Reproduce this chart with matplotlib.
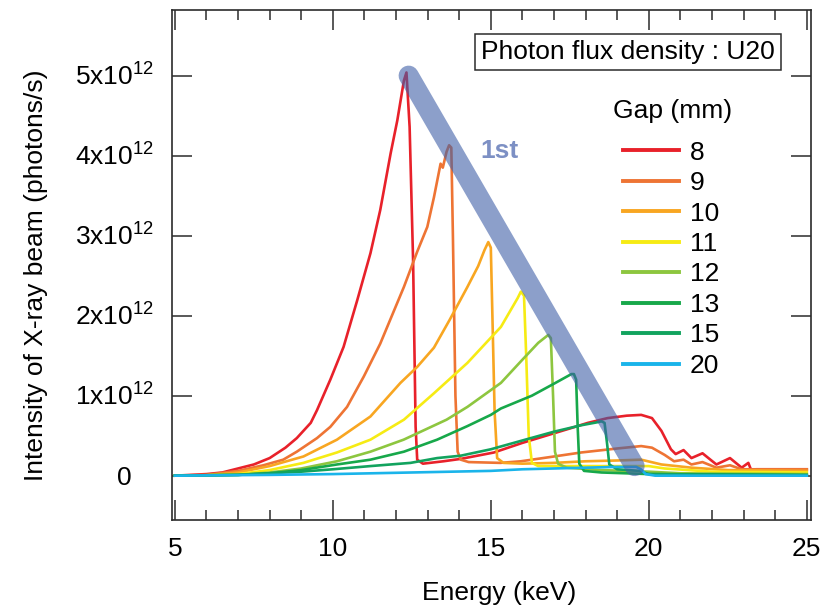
import matplotlib
matplotlib.use('Agg')
import matplotlib.pyplot as plt

plt.rcParams['font.family'] = ['Liberation Sans', 'DejaVu Sans']
plt.rcParams['mathtext.fontset'] = 'custom'
plt.rcParams['mathtext.rm'] = 'Liberation Sans'
plt.rcParams['mathtext.it'] = 'Liberation Sans:italic'
plt.rcParams['mathtext.bf'] = 'Liberation Sans:bold'

# ---------------- data (flux in units of 1e12 photons/s) ----------------
gap_labels = ['8', '9', '10', '11', '12', '13', '15', '20']
gap_colors = ['#e8212a', '#ee7434', '#f8a621', '#f6eb14', '#8dc63f', '#17a84a', '#12a35e', '#1ab4ea']

energy_gap8 = [5.0, 6.0, 6.5, 7.0, 7.5, 8.0, 8.5, 8.86, 9.3, 9.5, 9.92, 10.34, 10.77, 11.19, 11.5,
               11.83, 12.04, 12.25, 12.33, 12.43, 12.54, 12.62, 12.67, 12.85, 13.5, 14.05, 15.1, 16.0,
               16.5, 17.0, 17.5, 18.07, 18.7, 19.3, 19.76, 20.1, 20.4, 20.7, 20.85, 21.1, 21.35, 21.7,
               21.95, 22.14, 22.57, 22.94, 23.15, 23.25, 23.4, 24.0, 25.0]
flux_gap8 = [0.0, 0.02, 0.04, 0.09, 0.14, 0.22, 0.35, 0.47, 0.66, 0.82, 1.2, 1.61, 2.19, 2.78, 3.32,
             4.03, 4.44, 4.94, 5.04, 4.36, 2.69, 0.61, 0.2, 0.15, 0.18, 0.21, 0.29, 0.41,
             0.47, 0.53, 0.59, 0.66, 0.72, 0.75, 0.76, 0.72, 0.56, 0.33, 0.27, 0.32, 0.22, 0.28,
             0.2, 0.14, 0.22, 0.10, 0.16, 0.06, 0.08, 0.08, 0.08]

energy_gap9 = [5.0, 6.0, 7.0, 7.8, 8.43, 8.86, 9.5, 9.92, 10.45, 10.98, 11.5, 12.25, 12.67, 12.99,
               13.2, 13.41, 13.48, 13.6, 13.68, 13.75, 13.8, 13.88, 13.95, 14.05, 14.3, 15.3, 15.95,
               17.0, 17.86, 19.0, 19.76, 20.1, 20.5, 20.8, 21.1, 21.35, 21.7, 22.14, 22.57, 22.94,
               23.5, 25.0]
flux_gap9 = [0.0, 0.01, 0.06, 0.13, 0.2, 0.3, 0.47, 0.61, 0.86, 1.24, 1.65, 2.36, 2.8, 3.11,
             3.48, 3.9, 3.85, 4.05, 4.13, 4.1, 3.0, 1.0, 0.3, 0.2, 0.17, 0.16, 0.18,
             0.24, 0.29, 0.34, 0.37, 0.35, 0.26, 0.18, 0.2, 0.14, 0.17, 0.1, 0.13, 0.08,
             0.08, 0.08]

energy_gap10 = [5.0, 6.0, 7.0, 8.0, 9.07, 10.13, 11.19, 12.14, 12.67, 13.2, 13.7, 14.26, 14.6, 14.8,
                14.92, 15.0, 15.05, 15.12, 15.2, 15.4, 16.0, 17.0, 18.0, 19.0, 19.76, 20.4, 21.35,
                22.5, 25.0]
flux_gap10 = [0.0, 0.005, 0.04, 0.12, 0.24, 0.45, 0.74, 1.16, 1.36, 1.6, 1.95, 2.36, 2.62, 2.82,
              2.92, 2.85, 2.0, 0.8, 0.22, 0.16, 0.15, 0.16, 0.18, 0.19, 0.2, 0.14, 0.1,
              0.07, 0.06]

energy_gap11 = [5.0, 6.0, 7.0, 8.0, 9.07, 10.13, 11.19, 12.25, 13.2, 14.26, 15.32, 15.85, 15.95,
                16.05, 16.12, 16.2, 16.3, 16.5, 18.0, 20.0, 20.5, 22.0, 25.0]
flux_gap11 = [0.0, 0.003, 0.02, 0.07, 0.16, 0.29, 0.45, 0.7, 1.03, 1.41, 1.86, 2.22, 2.3,
              2.25, 1.5, 0.5, 0.16, 0.12, 0.12, 0.12, 0.09, 0.05, 0.04]

energy_gap12 = [5.0, 7.0, 8.0, 9.0, 10.13, 11.19, 12.24, 13.6, 14.26, 15.32, 16.0, 16.5, 16.82,
                16.9, 16.97, 17.03, 17.13, 17.4, 18.5, 20.0, 21.0, 25.0]
flux_gap12 = [0.0, 0.01, 0.04, 0.09, 0.18, 0.3, 0.45, 0.7, 0.86, 1.16, 1.45, 1.66, 1.76,
              1.72, 1.0, 0.3, 0.15, 0.1, 0.07, 0.05, 0.03, 0.02]

energy_gap13 = [5.0, 7.0, 8.0, 9.0, 10.13, 11.19, 12.25, 13.3, 14.26, 15.0, 15.32, 16.3, 17.0,
                17.55, 17.63, 17.7, 17.75, 17.8, 17.95, 18.5, 20.0, 25.0]
flux_gap13 = [0.0, 0.01, 0.03, 0.07, 0.14, 0.2, 0.3, 0.45, 0.62, 0.76, 0.84, 1.0, 1.15,
              1.27, 1.27, 1.2, 0.6, 0.15, 0.06, 0.04, 0.02, 0.01]

energy_gap15 = [5.0, 7.0, 8.0, 9.0, 10.0, 11.19, 12.46, 13.3, 14.05, 15.0, 16.27, 17.0, 17.86,
                18.4, 18.5, 18.6, 18.68, 18.75, 19.0, 19.7, 20.0, 25.0]
flux_gap15 = [0.0, 0.01, 0.03, 0.05, 0.08, 0.12, 0.16, 0.22, 0.25, 0.33, 0.47, 0.55, 0.63,
              0.67, 0.68, 0.66, 0.4, 0.14, 0.08, 0.06, 0.02, 0.005]

energy_gap20 = [5.0, 8.0, 10.0, 12.5, 15.0, 16.0, 18.0, 19.0, 19.6, 19.75, 19.9, 20.2, 25.0]
flux_gap20 = [0.0, 0.01, 0.02, 0.04, 0.06, 0.08, 0.1, 0.11, 0.11, 0.08, 0.02, 0.0, 0.0]

# first-harmonic peak envelope (thick band)
first_harmonic_energy = [12.4, 19.55]
first_harmonic_flux = [5.0, 0.12]

xtick_major = [5, 10, 15, 20, 25]
xtick_minor = list(range(5, 26))
ytick_values = [0, 1, 2, 3, 4, 5]
ytick_labels = ['0', r'1x10$^{12}$', r'2x10$^{12}$', r'3x10$^{12}$', r'4x10$^{12}$', r'5x10$^{12}$']

series_energy = [energy_gap8, energy_gap9, energy_gap10, energy_gap11,
                 energy_gap12, energy_gap13, energy_gap15, energy_gap20]
series_flux = [flux_gap8, flux_gap9, flux_gap10, flux_gap11,
               flux_gap12, flux_gap13, flux_gap15, flux_gap20]

# ---------------- figure ----------------
W, H = 830, 606
fig = plt.figure(figsize=(W / 100, H / 100), dpi=100)
ax_left, ax_right, ax_top, ax_bot = 171.7, 811.2, 10, 520
ax = fig.add_axes([ax_left / W, 1 - ax_bot / H, (ax_right - ax_left) / W, (ax_bot - ax_top) / H])

FS = 19
dark = '#2b2b2b'

handles = []
for e, f, c, lab in zip(series_energy, series_flux, gap_colors, gap_labels):
    ln, = ax.plot(e, f, color=c, lw=1.9, label=lab, solid_joinstyle='round')
    handles.append(ln)

ax.plot(first_harmonic_energy, first_harmonic_flux, color='#3f5fa8', alpha=0.6,
        lw=14.5, solid_capstyle='round', zorder=5)
ax.text(15.29, 4.06, '1st', color='#7d90c4', fontsize=FS, fontweight='bold',
        ha='center', va='center', zorder=6)

ax.set_xlim(4.9, 25.14)
ax.set_ylim(-0.554, 5.821)

ax.set_xticks(xtick_major)
ax.set_xticks(xtick_minor, minor=True)
ax.set_xticklabels([str(v) for v in xtick_major])
ax.set_yticks(ytick_values)
ax.set_yticklabels([''] * len(ytick_values))

ax.tick_params(axis='both', which='major', direction='in', length=14.4, width=1.1,
               color=dark, top=True, right=True, labelsize=FS, pad=12)
ax.tick_params(axis='x', which='minor', direction='in', length=7.2, width=1.1,
               color=dark, top=True, bottom=True)
ax.tick_params(axis='y', which='minor', left=False, right=False)
for sp in ax.spines.values():
    sp.set_color(dark)
    sp.set_linewidth(1.2)

# y tick labels (base text centred on tick, superscript sticking out)
ytrans = ax.get_yaxis_transform()
for v, lab in zip(ytick_values, ytick_labels):
    xoff = -40 if lab == '0' else -18
    ax.annotate(lab, xy=(0, v), xycoords=ytrans, xytext=(xoff * 0.72, -6.8),
                textcoords='offset points', ha='right', va='baseline', fontsize=FS,
                color='black', annotation_clip=False)

ax.set_xlabel('Energy (keV)', fontsize=FS)
ax.xaxis.set_label_coords((499 - ax_left) / (ax_right - ax_left), -(581 - ax_bot) / (ax_bot - ax_top))
ax.set_ylabel('Intensity of X-ray beam (photons/s)', fontsize=FS)
ax.yaxis.set_label_coords(-(ax_left - 48) / (ax_right - ax_left), (ax_bot - 275) / (ax_bot - ax_top))

# legend
leg = ax.legend(handles=handles, loc='upper left', bbox_to_anchor=(623 / W, 1 - 140.6 / H),
                bbox_transform=fig.transFigure, frameon=False, fontsize=FS, borderpad=0,
                handlelength=2.12, handletextpad=0.42, labelspacing=0.245, borderaxespad=0)
for h in leg.legend_handles:
    h.set_linewidth(2.8)
fig.text(613 / W, 1 - 111 / H, 'Gap (mm)', fontsize=FS, ha='left', va='center')

# title box
fig.text(628 / W, 1 - 52 / H, 'Photon flux density : U20', fontsize=FS, ha='center', va='center',
         bbox=dict(boxstyle='square,pad=0.22', facecolor='white', edgecolor=dark, linewidth=1.1))

fig.savefig('out.png', dpi=100)
